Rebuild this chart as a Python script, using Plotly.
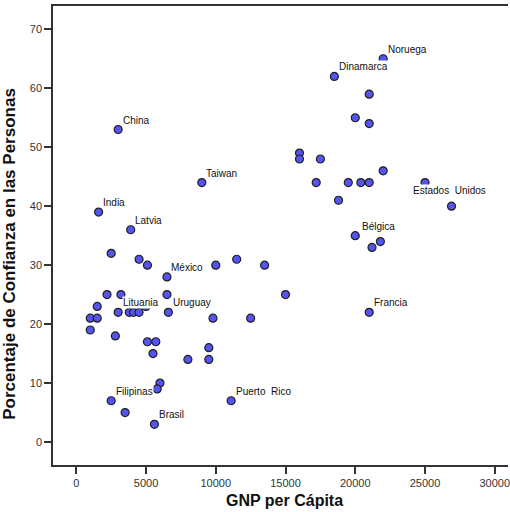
import plotly.graph_objects as go

# GNP per capita and trust percentage
gnp = [22000, 18500, 21000, 20000, 21000, 3000, 16000, 16000, 17500, 22000,
       9000, 17200, 19500, 20400, 21000, 25000, 18800, 26900, 1600, 3900,
       20000, 21800, 21200, 2500, 4500, 11500, 5100, 10000, 13500, 6500,
       2200, 3200, 6500, 15000, 1500, 3000, 3800, 4100, 4500, 5000,
       6600, 21000, 1000, 1500, 9800, 12500, 1000, 2800, 5100, 5700,
       5500, 8000, 9500, 9500, 6000, 5800, 2500, 11100, 3500, 5600]
trust = [65, 62, 59, 55, 54, 53, 49, 48, 48, 46,
         44, 44, 44, 44, 44, 44, 41, 40, 39, 36,
         35, 34, 33, 32, 31, 31, 30, 30, 30, 28,
         25, 25, 25, 25, 23, 22, 22, 22, 22, 23,
         22, 22, 21, 21, 21, 21, 19, 18, 17, 17,
         15, 14, 14, 16, 10, 9, 7, 7, 5, 3]
country = ["Noruega", "Dinamarca", "", "", "", "China", "", "", "", "",
           "Taiwan", "", "", "", "", "", "", "Estados  Unidos", "India", "Latvia",
           "Bélgica", "", "", "", "", "", "", "", "", "México",
           "", "", "", "", "", "Lituania", "", "", "", "",
           "Uruguay", "Francia", "", "", "", "", "", "", "", "",
           "", "", "", "", "", "", "Filipinas", "Puerto  Rico", "", "Brasil"]

x_ticks = [0, 5000, 10000, 15000, 20000, 25000, 30000]
y_ticks = [0, 10, 20, 30, 40, 50, 60, 70]
x_title = "GNP per Cápita"
y_title = "Porcentaje de Confianza en las Personas"

FONT = "Liberation Sans, Arial, sans-serif"

fig = go.Figure()
fig.add_trace(go.Scatter(
    x=gnp, y=trust, mode="markers",
    marker=dict(size=8, color="#5454f2", line=dict(color="#202020", width=1.2)),
    hoverinfo="skip", showlegend=False,
))

special = {"Bélgica": dict(xshift=6, yshift=9.5, xanchor="left"),
           "Estados  Unidos": dict(xshift=-1.7, yshift=15.6, xanchor="center")}
annotations = []
for xv, yv, name in zip(gnp, trust, country):
    if not name:
        continue
    opts = special.get(name, dict(xshift=3.5, yshift=9.5, xanchor="left"))
    annotations.append(dict(
        x=xv, y=yv, xref="x", yref="y", text=name, showarrow=False,
        yanchor="middle", bgcolor="white", borderpad=0,
        font=dict(family=FONT, size=10, color="#111111"), **opts))

annotations.append(dict(
    x=0.5095, y=-0.0763, xref="paper", yref="paper", text=f"<b>{x_title}</b>",
    showarrow=False, xanchor="center", yanchor="middle",
    font=dict(family=FONT, size=16, color="#111111")))
annotations.append(dict(
    x=-0.095, y=0.4597, xref="paper", yref="paper", text=f"<b>{y_title}</b>",
    showarrow=False, xanchor="center", yanchor="middle", textangle=-90,
    font=dict(family=FONT, size=17, color="#111111")))

axis_common = dict(
    showgrid=False, zeroline=False, showline=True,
    linecolor="#333333", linewidth=1.5, ticks="outside", ticklen=7,
    tickwidth=1.5, tickcolor="#333333", tickformat="d",
    tickfont=dict(family=FONT, size=11, color="#333333"),
)
fig.update_xaxes(range=[-1670, 30950], tickvals=x_ticks, mirror=True,
                 ticklabeloverflow="allow", **axis_common)
fig.update_yaxes(range=[-3.9, 73.95], tickvals=y_ticks, mirror=False,
                 **axis_common)

fig.update_layout(
    width=510, height=512,
    margin=dict(l=53, r=0, t=6, b=47),
    plot_bgcolor="white", paper_bgcolor="white",
    annotations=annotations,
    font=dict(family=FONT),
)

fig.write_html(
    "out.html",
    config={"displayModeBar": False},
    post_script=("document.body.style.margin='0px';"
                 "document.body.style.overflow='hidden';"
                 "document.documentElement.style.overflow='hidden';"),
)
